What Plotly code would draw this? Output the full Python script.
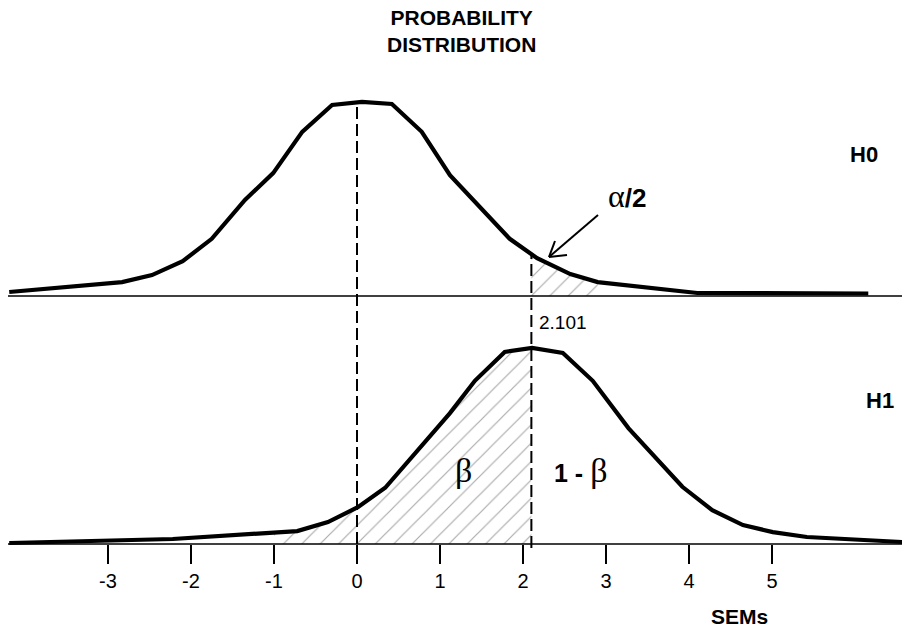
import numpy as np
import plotly.graph_objects as go

# ---- data -------------------------------------------------------------
# Sampling distribution under the null hypothesis (centred on 0 SEM)
h0_sem = [-4.19, -2.83, -2.47, -2.10, -1.75, -1.35, -1.01, -0.66, -0.30, 0.06,
          0.42, 0.78, 1.12, 1.84, 2.17, 2.57, 2.90, 4.10, 6.16]
h0_density = [0.008, 0.028, 0.042, 0.070, 0.115, 0.193, 0.247, 0.330, 0.384, 0.390,
              0.386, 0.330, 0.243, 0.115, 0.076, 0.044, 0.028, 0.006, 0.005]

# Sampling distribution under the alternative hypothesis (centred near 2.1 SEM)
h1_sem = [-4.19, -2.94, -2.22, -0.72, -0.35, 0.01, 0.34, 1.12, 1.42, 1.78,
          2.11, 2.48, 2.84, 3.27, 3.92, 4.28, 4.65, 5.01, 5.42, 6.57]
h1_density = [0.002, 0.006, 0.010, 0.026, 0.044, 0.074, 0.113, 0.263, 0.328, 0.386,
              0.394, 0.384, 0.328, 0.233, 0.115, 0.068, 0.038, 0.024, 0.014, 0.004]

critical_value = 2.101          # two-sided critical t
alpha_tail_end = 2.90           # where the shaded alpha/2 tail stops
beta_start = -1.0               # where the shaded beta region starts
tick_values = [-3, -2, -1, 0, 1, 2, 3, 4, 5]
tick_labels = ["-3", "-2", "-1", "0", "1", "2", "3", "4", "5"]

# ---- layout geometry (pixels) ----------------------------------------
W, H = 902, 627
ZERO_PX, PX_PER_SEM = 357, 83          # horizontal scale
TOP_BASE_PX, BOT_BASE_PX = 296, 544    # baselines of the two panels
DENS_PER_PX = 0.00201                  # vertical scale (same for both panels)

FONT = "Liberation Sans, Arial, sans-serif"
SERIF = "Liberation Serif, Times New Roman, serif"

x_range = [-ZERO_PX / PX_PER_SEM, (W - ZERO_PX) / PX_PER_SEM]
x_left_edge = (8 - ZERO_PX) / PX_PER_SEM


def top_paper(d):
    return 1 - (TOP_BASE_PX - d / DENS_PER_PX) / H


def bot_paper(d):
    return 1 - (BOT_BASE_PX - d / DENS_PER_PX) / H


def px(xp, yp):
    return xp / W, 1 - yp / H


def region(xs, ys, lo, hi):
    """Closed polygon under a curve between lo and hi."""
    inner = [(a, b) for a, b in zip(xs, ys) if lo < a < hi]
    px_ = [lo, lo] + [a for a, _ in inner] + [hi, hi]
    py_ = [0, float(np.interp(lo, xs, ys))] + [b for _, b in inner] + \
          [float(np.interp(hi, xs, ys)), 0]
    return px_, py_


hatch = dict(shape="/", size=13, solidity=0.09, fgcolor="#555555",
             bgcolor="rgba(0,0,0,0)")

fig = go.Figure()

# shaded alpha/2 tail under H0
ax_, ay_ = region(h0_sem, h0_density, critical_value, alpha_tail_end)
fig.add_trace(go.Scatter(x=ax_, y=ay_, yaxis="y2", fill="toself",
                         fillcolor="rgba(0,0,0,0)", fillpattern=hatch,
                         line=dict(width=0), mode="lines", hoverinfo="skip"))

# shaded beta region under H1
bx_, by_ = region(h1_sem, h1_density, beta_start, critical_value)
fig.add_trace(go.Scatter(x=bx_, y=by_, yaxis="y", fill="toself",
                         fillcolor="rgba(0,0,0,0)", fillpattern=hatch,
                         line=dict(width=0), mode="lines", hoverinfo="skip"))

# baselines
for ax_name in ("y2", "y"):
    fig.add_trace(go.Scatter(x=[x_left_edge, x_range[1]], y=[0, 0], yaxis=ax_name,
                             mode="lines", line=dict(color="black", width=1.5),
                             hoverinfo="skip"))

# the two distributions
fig.add_trace(go.Scatter(x=h0_sem, y=h0_density, yaxis="y2", mode="lines",
                         line=dict(color="black", width=4.2), name="H0"))
fig.add_trace(go.Scatter(x=h1_sem, y=h1_density, yaxis="y", mode="lines",
                         line=dict(color="black", width=4.2), name="H1"))

# dashed reference lines at 0 and at the critical value
dash = dict(color="black", width=2, dash="12px,5px")
fig.add_shape(type="line", xref="x", yref="paper",
              x0=0, x1=0,
              y0=bot_paper(0), y1=top_paper(float(np.interp(0, h0_sem, h0_density))),
              line=dash)
fig.add_shape(type="line", xref="x", yref="paper",
              x0=critical_value, x1=critical_value,
              y0=bot_paper(-4 * DENS_PER_PX),
              y1=top_paper(float(np.interp(critical_value, h0_sem, h0_density))),
              line=dash)

# arrow pointing at the alpha/2 tail
tip = (549, 257)
for start in [(598, 215), (555, 241), (567, 255)]:
    x0, y0 = px(*start)
    x1, y1 = px(*tip)
    fig.add_shape(type="line", xref="paper", yref="paper", x0=x0, y0=y0,
                  x1=x1, y1=y1, line=dict(color="black", width=2))


def label(text, xp, yp, size, bold=False, family=FONT):
    x, y = px(xp, yp)
    if bold:
        text = f"<b>{text}</b>"
    fig.add_annotation(x=x, y=y, xref="paper", yref="paper", text=text,
                       showarrow=False, xanchor="center", yanchor="middle",
                       font=dict(family=family, size=size, color="black"))


label("PROBABILITY<br>DISTRIBUTION", 461, 31, 21, bold=True)
label("H0", 864, 154, 22, bold=True)
label("H1", 880, 400, 22, bold=True)
label(f"<span style='font-family:{SERIF};font-size:32px'>α</span><b>/2</b>",
      627, 196, 26)
label("β", 463, 470, 34, family=SERIF)
label(f"<b>1 - </b><span style='font-family:{SERIF};font-size:34px'>β</span>",
      580, 470, 25)
label(f"{critical_value}", 563, 322, 19)
label("SEMs", 739, 616, 21, bold=True)

fig.update_layout(
    width=W, height=H,
    margin=dict(l=0, r=0, t=0, b=0),
    paper_bgcolor="white", plot_bgcolor="white",
    showlegend=False,
    xaxis=dict(range=x_range, anchor="free", position=(H - BOT_BASE_PX) / H,
               tickmode="array", tickvals=tick_values, ticktext=tick_labels,
               ticks="outside", ticklen=19, tickwidth=2, tickcolor="black",
               showline=False, showgrid=False, zeroline=False,
               tickfont=dict(family=FONT, size=20, color="black")),
    yaxis=dict(domain=[0, 1],
               range=[-(H - BOT_BASE_PX) * DENS_PER_PX, BOT_BASE_PX * DENS_PER_PX],
               visible=False, showgrid=False, zeroline=False),
    yaxis2=dict(domain=[0, 1], overlaying="y", anchor="x",
                range=[-(H - TOP_BASE_PX) * DENS_PER_PX, TOP_BASE_PX * DENS_PER_PX],
                visible=False, showgrid=False, zeroline=False),
)

fig.write_html("out.html")
